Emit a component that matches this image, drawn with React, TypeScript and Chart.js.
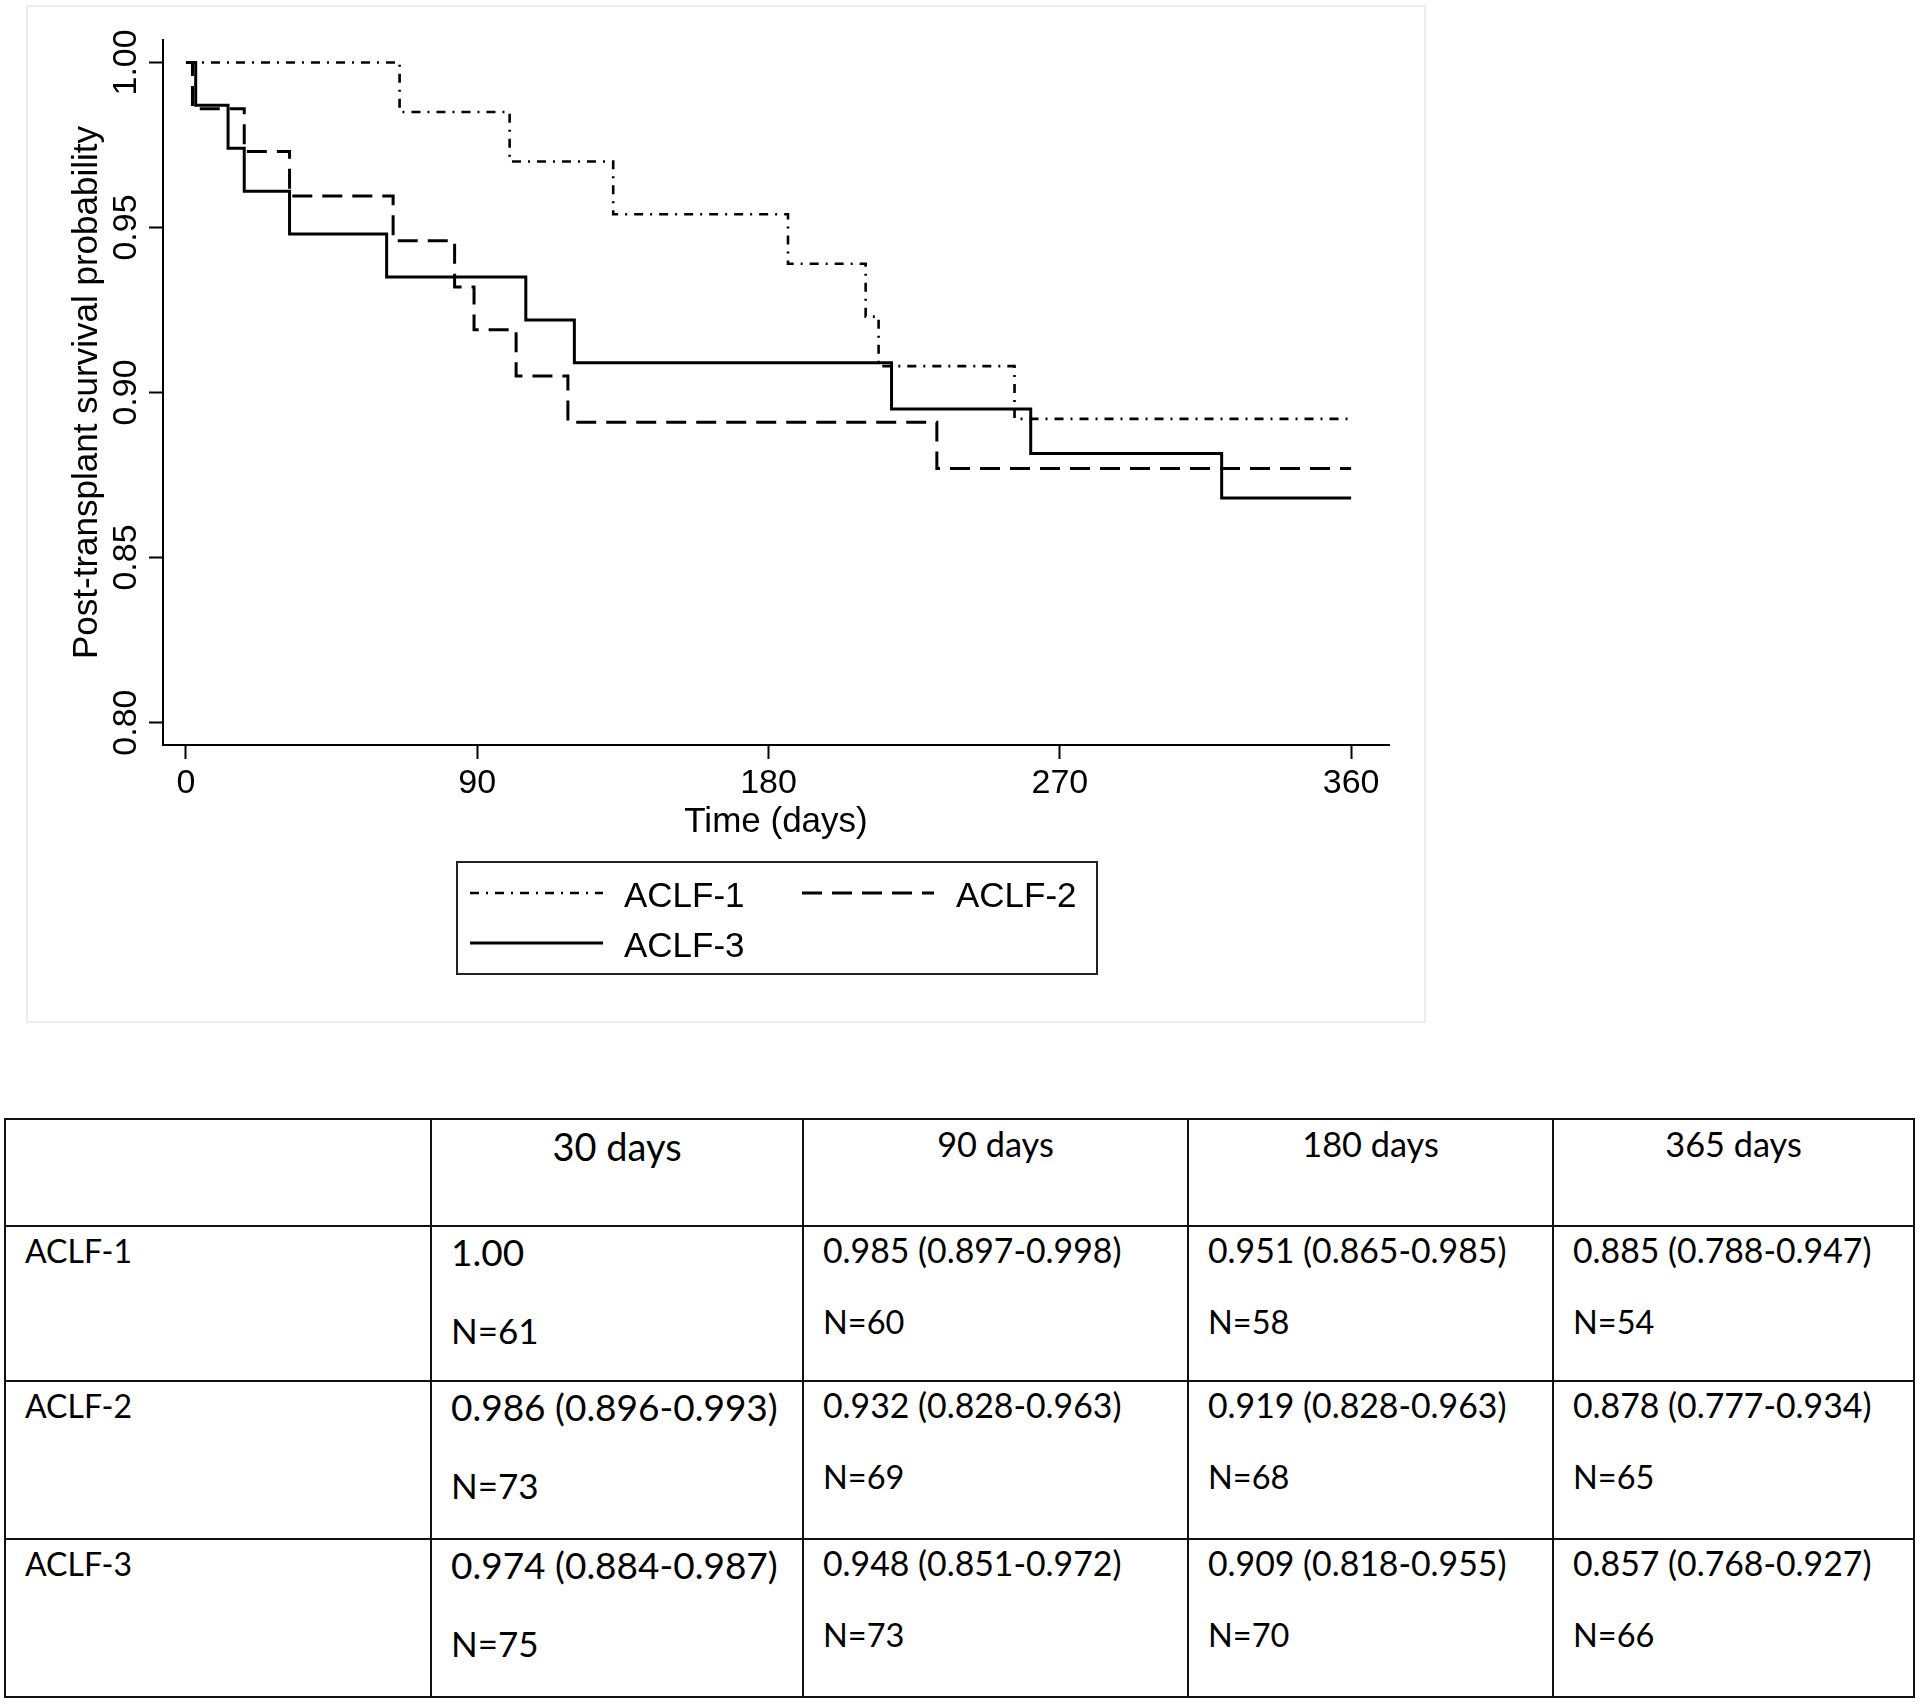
import React, { useEffect, useRef } from "react";
import { Chart, registerables } from "chart.js";

Chart.register(...registerables);

// ---------------- data ----------------
const seriesNames = ["ACLF-1", "ACLF-2", "ACLF-3"];

const aclf1Days = [0, 66, 100, 132, 186, 210, 214, 256, 360];
const aclf1Surv = [1.0, 0.985, 0.970, 0.954, 0.939, 0.923, 0.908, 0.892, 0.892];

const aclf2Days = [0, 2, 18, 32, 64, 83, 89, 102, 118, 232, 360];
const aclf2Surv = [1.0, 0.986, 0.973, 0.9595, 0.946, 0.932, 0.919, 0.905, 0.891, 0.877, 0.877];

const aclf3Days = [0, 3, 13, 18, 32, 62, 105, 120, 218, 261, 320, 360];
const aclf3Surv = [1.0, 0.987, 0.974, 0.961, 0.948, 0.935, 0.922, 0.909, 0.895, 0.8815, 0.868, 0.868];

const xTickValues = [0, 90, 180, 270, 360];
const yTickValues = [0.8, 0.85, 0.9, 0.95, 1.0];
const xAxisTitle = "Time (days)";
const yAxisTitle = "Post-transplant survival probability";

const tableHeaders = ["", "30 days", "90 days", "180 days", "365 days"];
const tableRowLabels = ["ACLF-1", "ACLF-2", "ACLF-3"];
const surv30 = ["1.00", "0.986 (0.896-0.993)", "0.974 (0.884-0.987)"];
const atRisk30 = ["N=61", "N=73", "N=75"];
const surv90 = ["0.985 (0.897-0.998)", "0.932 (0.828-0.963)", "0.948 (0.851-0.972)"];
const atRisk90 = ["N=60", "N=69", "N=73"];
const surv180 = ["0.951 (0.865-0.985)", "0.919 (0.828-0.963)", "0.909 (0.818-0.955)"];
const atRisk180 = ["N=58", "N=68", "N=70"];
const surv365 = ["0.885 (0.788-0.947)", "0.878 (0.777-0.934)", "0.857 (0.768-0.927)"];
const atRisk365 = ["N=54", "N=65", "N=66"];

// ---------------- styling / layout ----------------
const CHART_FONT = '"Liberation Sans", Arial, Helvetica, sans-serif';
const TABLE_FONT = 'Lato, "Open Sans", "Liberation Sans", sans-serif';

const toPoints = (xs: number[], ys: number[]) => xs.map((x, i) => ({ x, y: ys[i] }));

const lineDashes = [[9, 7, 2, 7], [20, 10], []];
const lineWidths = [2.6, 3, 3];

const legendLayout = {
  box: { x: 430, y: 856, w: 640, h: 112 },
  entries: [
    { x0: 443, x1: 576, y: 887, tx: 597, ty: 901 },
    { x0: 775, x1: 907, y: 887, tx: 929, ty: 901 },
    { x0: 443, x1: 576, y: 937, tx: 597, ty: 951 },
  ],
};

const kmLegendPlugin = {
  id: "kmLegend",
  afterDraw(chart: any) {
    const ctx = chart.ctx as CanvasRenderingContext2D;
    const L = legendLayout;
    ctx.save();
    ctx.strokeStyle = "#222";
    ctx.lineWidth = 2;
    ctx.setLineDash([]);
    ctx.strokeRect(L.box.x, L.box.y, L.box.w, L.box.h);
    chart.data.datasets.forEach((ds: any, i: number) => {
      const e = L.entries[i];
      if (!e) return;
      ctx.strokeStyle = "#000";
      ctx.lineWidth = ds.borderWidth || 2.5;
      ctx.setLineDash(ds.borderDash || []);
      ctx.beginPath();
      ctx.moveTo(e.x0, e.y);
      ctx.lineTo(e.x1, e.y);
      ctx.stroke();
      ctx.setLineDash([]);
      ctx.fillStyle = "#000";
      ctx.font = `35px ${CHART_FONT}`;
      ctx.textAlign = "left";
      ctx.textBaseline = "alphabetic";
      ctx.fillText(ds.label, e.tx, e.ty);
    });
    ctx.restore();
  },
};

function KMChart() {
  const ref = useRef<HTMLCanvasElement | null>(null);
  useEffect(() => {
    if (!ref.current) return;
    const series = [
      { days: aclf1Days, surv: aclf1Surv },
      { days: aclf2Days, surv: aclf2Surv },
      { days: aclf3Days, surv: aclf3Surv },
    ];
    const chart = new Chart(ref.current, {
      type: "line",
      data: {
        datasets: series.map((s, i) => ({
          label: seriesNames[i],
          data: toPoints(s.days, s.surv),
          borderColor: "#000",
          backgroundColor: "#000",
          borderWidth: lineWidths[i],
          borderDash: lineDashes[i],
          borderCapStyle: "butt",
          borderJoinStyle: "miter",
          pointRadius: 0,
          stepped: "before",
          fill: false,
        })),
      },
      options: {
        animation: false,
        responsive: false,
        devicePixelRatio: 1,
        layout: { padding: { left: 0, top: 34, right: 36, bottom: 157 } },
        plugins: { legend: { display: false }, tooltip: { enabled: false } },
        scales: {
          x: {
            type: "linear",
            min: -7.1,
            max: 371.7,
            afterBuildTicks: (s: any) => {
              s.ticks = xTickValues.map((v) => ({ value: v }));
            },
            afterFit: (s: any) => {
              s.height = 120;
            },
            grid: { drawOnChartArea: false, drawTicks: true, tickLength: 14, tickWidth: 2, tickColor: "#000" },
            border: { display: true, color: "#000", width: 2 },
            ticks: {
              color: "#000",
              padding: 4,
              maxRotation: 0,
              autoSkip: false,
              font: { family: CHART_FONT, size: 34 },
              callback: (v: any) => String(v),
            },
            title: {
              display: true,
              text: xAxisTitle,
              color: "#000",
              font: { family: CHART_FONT, size: 35 },
              padding: { top: 0, bottom: 22 },
            },
          },
          y: {
            type: "linear",
            min: 0.7932,
            max: 1.0068,
            afterBuildTicks: (s: any) => {
              s.ticks = yTickValues.map((v) => ({ value: v }));
            },
            afterFit: (s: any) => {
              s.width = 136;
            },
            grid: { drawOnChartArea: false, drawTicks: true, tickLength: 14, tickWidth: 2, tickColor: "#000" },
            border: { display: true, color: "#000", width: 2 },
            ticks: {
              color: "#000",
              padding: -11,
              minRotation: 90,
              maxRotation: 90,
              crossAlign: "center",
              autoSkip: false,
              font: { family: CHART_FONT, size: 34 },
              callback: (v: any) => Number(v).toFixed(2),
            },
            title: {
              display: true,
              text: yAxisTitle,
              color: "#000",
              font: { family: CHART_FONT, size: 35 },
              padding: { top: 39, bottom: 0 },
            },
          },
        },
      },
      plugins: [kmLegendPlugin],
    } as any);
    return () => chart.destroy();
  }, []);
  return (
    <canvas
      ref={ref}
      width={1398}
      height={1016}
      style={{ position: "absolute", left: 27, top: 6, width: 1398, height: 1016 }}
    />
  );
}

const colEdges = [5, 431, 803, 1188, 1553, 1914];
const rowEdges = [1119, 1226, 1381, 1539, 1697];

function TText(props: { x: number; baseline: number; size: number; text: string; width?: number; center?: boolean }) {
  const { x, baseline, size, text, width, center } = props;
  return (
    <div
      style={{
        position: "absolute",
        left: x,
        top: baseline - 0.987 * size,
        width: width,
        textAlign: center ? "center" : "left",
        fontFamily: TABLE_FONT,
        fontSize: size,
        lineHeight: `${1.2 * size}px`,
        whiteSpace: "nowrap",
        color: "#000",
      }}
    >
      {text}
    </div>
  );
}

function SurvivalTable() {
  const cols = [
    { est: surv30, n: atRisk30 },
    { est: surv90, n: atRisk90 },
    { est: surv180, n: atRisk180 },
    { est: surv365, n: atRisk365 },
  ];
  const items: React.ReactNode[] = [];
  rowEdges.forEach((y, i) => {
    items.push(
      <div key={"h" + i} style={{ position: "absolute", left: colEdges[0] - 1, top: y - 1, width: colEdges[colEdges.length - 1] - colEdges[0] + 2, height: 2, background: "#111" }} />
    );
  });
  colEdges.forEach((x, i) => {
    items.push(
      <div key={"v" + i} style={{ position: "absolute", left: x - 1, top: rowEdges[0] - 1, width: 2, height: rowEdges[rowEdges.length - 1] - rowEdges[0] + 2, background: "#111" }} />
    );
  });
  tableHeaders.forEach((h, c) => {
    if (!h) return;
    const first = c === 1;
    items.push(
      <TText key={"hd" + c} x={colEdges[c]} width={colEdges[c + 1] - colEdges[c]} center baseline={first ? 1161.5 : 1156.5} size={first ? 38 : 34.3} text={h} />
    );
  });
  tableRowLabels.forEach((lab, r) => {
    const top = rowEdges[r + 1];
    items.push(<TText key={"rl" + r} x={colEdges[0] + 20} baseline={top + 37.5} size={32} text={lab} />);
    cols.forEach((col, c) => {
      const first = c === 0;
      const b1 = top + (first ? 40.7 : 37.5);
      const b2 = b1 + (first ? 77 : 71);
      const estSize = first ? 37 : 33.8;
      const nSize = first ? 35 : 32.5;
      items.push(<TText key={`e${r}-${c}`} x={colEdges[c + 1] + 20} baseline={b1} size={estSize} text={col.est[r]} />);
      items.push(<TText key={`n${r}-${c}`} x={colEdges[c + 1] + 20} baseline={b2} size={nSize} text={col.n[r]} />);
    });
  });
  return <>{items}</>;
}

export default function App() {
  return (
    <div style={{ position: "absolute", left: 0, top: 0, width: 1920, height: 1704, background: "#fff", overflow: "hidden" }}>
      <div style={{ position: "absolute", left: 26, top: 5, width: 1400, height: 1018, boxSizing: "border-box", border: "2px solid #ececec" }} />
      <KMChart />
      <SurvivalTable />
    </div>
  );
}
